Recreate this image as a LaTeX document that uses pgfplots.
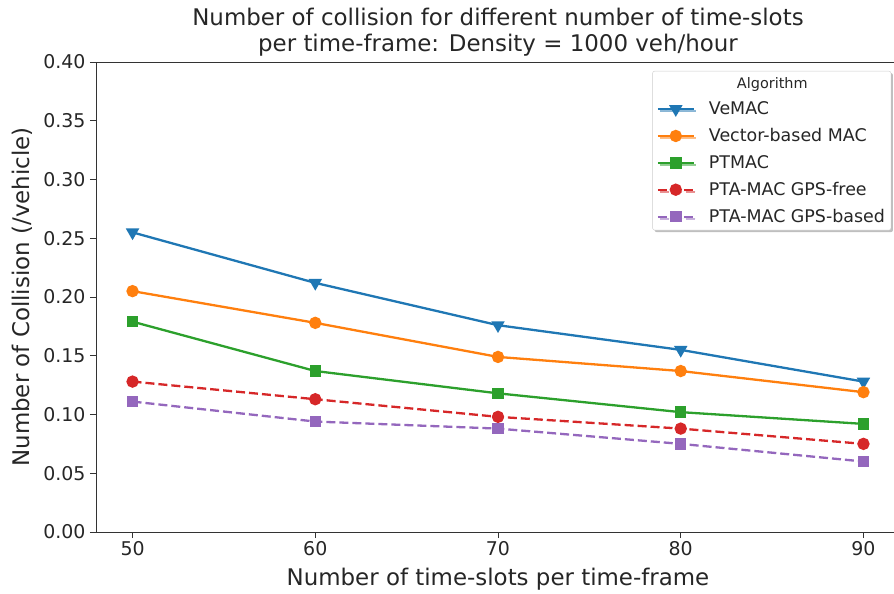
\documentclass[border=0pt]{standalone}
\usepackage{pgfplots}
\pgfplotsset{compat=1.18}
\usepackage{fontspec}
\setmainfont{DejaVu Sans}
\usetikzlibrary{shadows}
\definecolor{c0}{HTML}{1F77B4}
\definecolor{c1}{HTML}{FF7F0E}
\definecolor{c2}{HTML}{2CA02C}
\definecolor{c3}{HTML}{D62728}
\definecolor{c4}{HTML}{9467BD}
\begin{document}
\begin{tikzpicture}
\useasboundingbox (-96bp,-62bp) rectangle (798bp,532bp);
\begin{axis}[
  at={(0,0)}, anchor=south west,
  scale only axis, width=804bp, height=470bp,
  xmin=48, xmax=92, ymin=0, ymax=0.4,
  xtick={50,60,70,80,90},
  ytick={0,0.05,0.1,0.15,0.2,0.25,0.3,0.35,0.4},
  yticklabel style={xshift=-1bp, /pgf/number format/fixed, /pgf/number format/fixed zerofill, /pgf/number format/precision=2},
  /pgf/number format/assume math mode=true,
  tick label style={font=\fontsize{19}{22}\selectfont, text=black!85},
  tick align=outside, tickpos=left,
  major tick length=6bp,
  tick style={line width=0.8bp, black!80},
  axis line style={line width=0.8bp, black!80},
  xlabel={Number of time-slots per time-frame},
  ylabel={Number of Collision (/vehicle)},
  label style={font=\fontsize{23}{26}\selectfont, text=black!85},
  xlabel style={at={(0.5,0)}, anchor=north, yshift=-33bp},
  ylabel style={at={(0,0.5)}, anchor=south, yshift=60bp},
  title={Number of collision for different number of time-slots\\per time-frame: Density = 1000 veh/hour},
  title style={font=\fontsize{23}{26}\selectfont, align=center, at={(0.5,1)}, anchor=south, yshift=-4bp, text=black!85},
  legend style={at={(0.989,0.981)}, anchor=north east, font=\fontsize{17.5}{20}\selectfont,
    draw=black!20, rounded corners=2bp, fill=white, drop shadow={shadow xshift=2bp, shadow yshift=-2bp, fill=black!50},
    inner xsep=4bp, inner ysep=4bp, row sep=8.3bp, text=black!85,
    /tikz/every odd column/.style={column sep=12bp}},
  legend cell align=left,
  legend image code/.code={\draw[mark repeat=2, mark phase=2] plot coordinates {(0bp,0bp) (18bp,0bp) (36bp,0bp)};},
  every axis plot/.append style={line width=2.3bp},
  clip=false,
]
\addlegendimage{empty legend}
\addlegendentry{\hspace{28bp}\fontsize{14.5}{17}\selectfont Algorithm}
\addplot[c0, mark=triangle*, mark options={rotate=180, solid}, mark size=5.5bp] coordinates {(50,0.255) (60,0.212) (70,0.176) (80,0.155) (90,0.128)};
\addlegendentry{VeMAC}
\addplot[c1, mark=*, mark size=5bp] coordinates {(50,0.205) (60,0.178) (70,0.149) (80,0.137) (90,0.119)};
\addlegendentry{Vector-based MAC}
\addplot[c2, mark=square*, mark size=4.6bp] coordinates {(50,0.179) (60,0.137) (70,0.118) (80,0.102) (90,0.092)};
\addlegendentry{PTMAC}
\addplot[c3, dash pattern=on 9bp off 4bp, mark=*, mark size=5bp, mark options={solid}] coordinates {(50,0.128) (60,0.113) (70,0.098) (80,0.088) (90,0.075)};
\addlegendentry{PTA-MAC GPS-free}
\addplot[c4, dash pattern=on 9bp off 4bp, mark=square*, mark size=4.6bp, mark options={solid}] coordinates {(50,0.111) (60,0.094) (70,0.088) (80,0.075) (90,0.060)};
\addlegendentry{PTA-MAC GPS-based}
\end{axis}
\end{tikzpicture}
\end{document}
